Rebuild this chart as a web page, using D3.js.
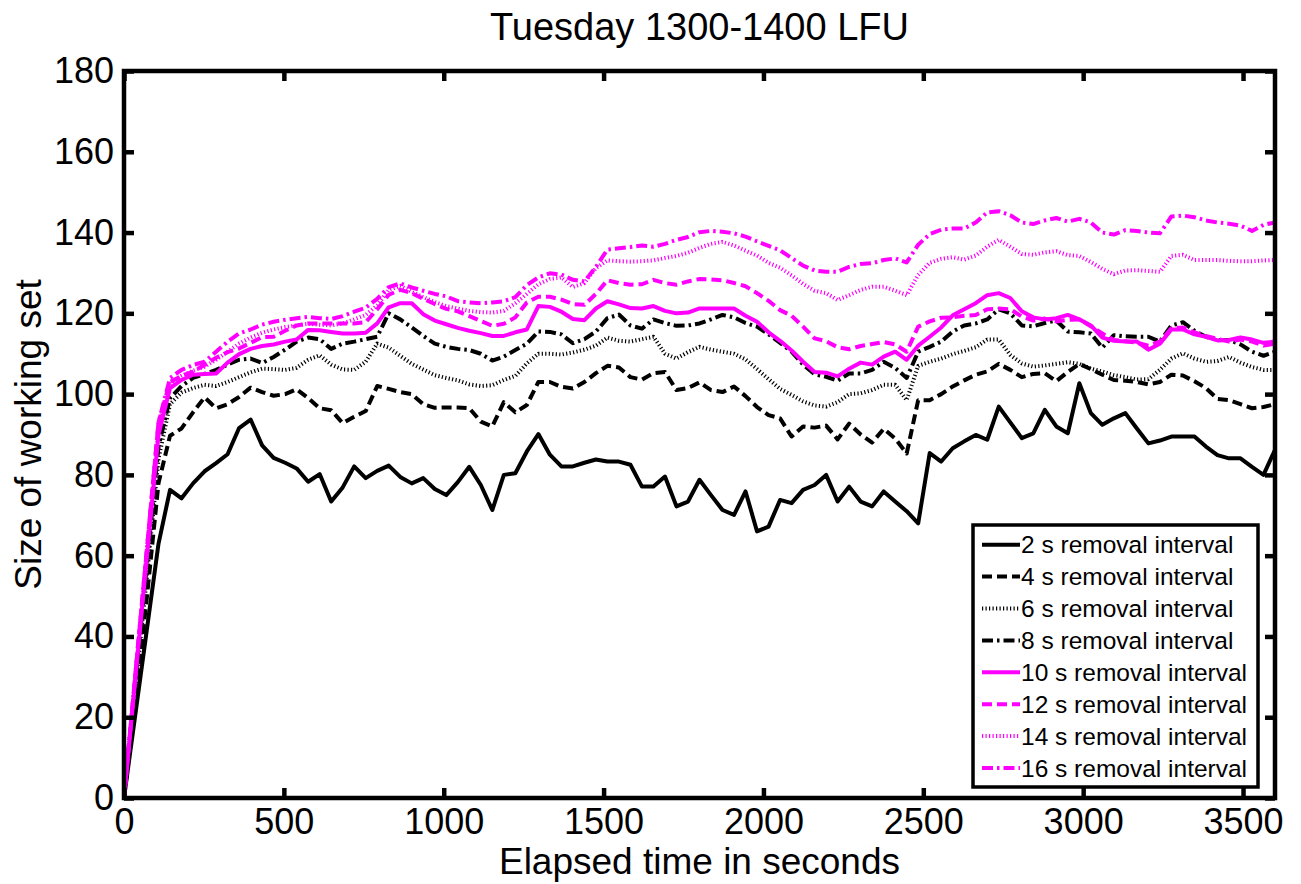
<!DOCTYPE html>
<html><head><meta charset="utf-8">
<script src="https://cdn.jsdelivr.net/npm/d3@7"></script>
<style>
body{margin:0;background:#fff;}
svg text{font-family:"Liberation Sans",Arial,Helvetica,sans-serif;fill:#000;}
</style>
</head><body>
<svg id="c" width="1301" height="884"></svg>
<script>
// ---- data ----
const sampleStep = 36; // seconds between samples
const s2 = [0,21,42,63,76.3,74.2,77.9,80.9,82.9,85.1, 91.6,93.7,87.3,84.2,83.0,81.6,78.3,80.2,73.4,76.9, 82.1,79.2,81,82.3,79.5,77.9,79.2,76.5,75,78.2, 82,77.5,71.3,80,80.4,85.8,90.1,85.0,82.1,82.1, 83,83.8,83.3,83.3,82.5,77.1,77.1,79.6,72.2,73.4, 78.8,75,71.3,70.1,75.9,66.0,67.2,73.8,73.0,76.3, 77.5,80.0,73.4,77.1,73.4,72.2,75.9,73.4,71,68, 85.4,83.3,86.6,88.3,89.9,88.7,96.9,93,89.1,90.3, 96.1,92,90.3,102.7,95.3,92.4,94,95.3,91.5,87.8, 88.5,89.5,89.5,89.5,87,84.9,84.1,84.1,82,80, 86.2];
const s4 = [0,24,50,78,89.7,91.5,95.5,99.2,96.5,97.5, 99.3,101.6,100.5,99.6,100,101.2,99,96.5,96,92.8, 94.4,95.8,102,101.3,100.5,100,97.5,96.6,96.7,96.7, 96.5,93.2,92,98,95.5,97.3,103,103,101.8,101.4, 103,105.2,107,106.6,104.2,103.6,105.2,105.5,101,101.5, 102.9,101,100.5,101.9,99.5,96.8,94.8,94,89.5,92, 91.7,92.2,88.8,92.7,90,88,91.4,89,85.3,98.5, 98.5,100,101.9,103.4,104.8,105.6,107.5,106,104.2,105, 105.2,103.2,105.5,107.5,106.2,104.8,103.5,103.3,103,102.4, 103,104.8,104.6,103.2,101.5,98.8,98.5,97.5,96.5,96.8, 97.5];
const s6 = [0,27,55,84,97.5,100.4,101.5,102.3,102,103, 104.2,105.4,106.3,106.2,106,106.5,108.5,109.6,107.3,106.1, 106,108,112.5,111.5,109.5,107.5,106.1,104.7,104,103.4, 102.4,102,102.2,103.5,104.5,107.6,110,110,109.8,110.3, 111,112,114,113.2,113,113.6,114.2,110,108.8,110.4, 111.7,111,110.5,110,108.6,106.2,103.7,101.3,99.8,98.2, 97.2,96.9,98,100,100.2,101,102.3,102.3,98.5,107, 108,108.8,109.9,110.7,111.6,113.5,113.5,109.7,107.6,106.8, 107.1,107.5,107.9,107.5,106.3,105.6,104.7,104.2,103.6,103.7, 106,108.8,110.1,108.8,108,108.2,109.2,107.8,106.7,106, 106];
const s8 = [0,29,58,87,99,102,104,105,106,107.3, 108.5,108.8,107.7,109.2,111,113,114,113.6,111.2,112.5, 113,113.6,114.2,120,118.5,116.5,114.4,112.5,111.7,111.2, 110.9,110,108.3,109.3,110.9,112.5,115.5,115.4,114.8,112.6, 113.6,115.5,118.8,119.7,117,116.2,118.5,117.6,116.9,117, 117.5,118.5,119.6,119,117.6,116.7,114.8,112.7,110.5,107.3, 104.9,104.3,103.3,105.1,105.1,106,108,106.5,104,110.5, 111.7,113,115.5,117,117.5,118.5,121,120,117,116.8, 117.6,118.2,115.5,115.3,115,111.5,114.6,114.3,114.2,114.2, 113,117,117.8,115.7,114.2,113.4,113.4,112.3,110.5,109.5, 110.5];
const s10 = [0,30,60,90,101.5,103.5,104.8,105,105.1,107.8, 109.9,111.2,111.9,112.3,113,113.5,115.9,115.8,115.4,115, 115,115.2,117.5,121.5,122.5,122.5,119.8,118.2,117.3,116.4, 115.7,115.1,114.4,114.4,115.3,116,121.8,121.6,120.4,118.6, 118.3,121.2,123,122.2,121.3,121.2,121.8,120.6,120,120.2, 121.2,121.2,121.2,121.2,119.4,117.9,115.3,113.2,110.8,108, 105.5,105.3,104.4,106.3,107.8,107.3,109.3,110.5,108.5,112, 114.2,116.5,119.5,121,122.5,124.5,125,123.8,120.5,119, 118.5,118.8,119.6,118.5,117,114,113.2,113,113,111, 112.5,116,116,114.8,114.2,113.3,113.4,114,113.5,112.7, 113];
const s12 = [0,31,62,93,103,104.5,105.6,107.2,109,110.4, 111.3,112.7,114.1,114.2,115.7,117,117.5,117.5,117.5,117.5, 117.5,117.8,121,124.6,125.8,125,123.6,122.3,121.1,120.5, 119.3,118.1,116.9,117.4,119,122.7,124.1,124.1,123.4,122.3, 122.1,124.8,128.2,127.5,127.1,127.2,128.3,127.5,127.1,127.9, 128.5,128.4,128.2,127.5,126.7,125,123.1,120.8,119.4,116.7, 113.8,113.1,111.6,111.1,111.9,112.4,112.9,112.3,110.5,116.7, 118,118.9,119,119.4,119.6,121,121.2,121,119.2,118.2, 118.7,118,118.4,118.5,116.8,115,113.4,113.1,112.7,112, 113,116.3,116.5,115.3,114.4,113.7,113,113.5,113,112, 112.5];
const s14 = [0,31,61,92,102.5,104.5,105.8,106.8,108.5,110.5, 112.5,114,115.2,116,116.6,117,117.4,117.2,117,117.5, 118.5,119.6,122,125.8,126.8,125.3,124,122.8,121.8,121.2, 120.6,120.3,120.2,120.6,122.5,124.8,127.2,128.5,128.9,126.5, 127.5,131.2,133.1,132.9,132.8,132.9,133.1,133.7,134.2,135, 136.2,137.2,137.7,136.8,135.5,134.3,132.5,131.3,129.4,127.3, 125.6,125,123.3,124.5,125.8,126.6,126.6,125.6,124.5,129.5, 132.5,133.5,133.9,133.3,134.3,136.5,138.2,136.5,134.7,134.5, 135.1,135.4,134.4,134.2,132.7,131,129.7,130.6,130.7,130.5, 130.3,134.2,134.5,133.2,133.2,133.2,133,132.9,132.9,133.1, 133.2];
const s16 = [0,31,62,93,104,106,107.2,108,110.5,113, 115,116,117.2,117.9,118.4,118.8,119.1,118.8,118.6,119.3, 120.4,121.4,123.6,126.5,127.4,126.4,125.6,124.8,124.2,123, 122.7,122.5,122.7,123,124,127,128.9,129.9,129.6,128.3, 127.9,131.5,135.8,136.1,136.4,136.8,136.5,137.2,138.2,138.9, 140.1,140.4,140.2,139.8,139,137.8,136.7,135.6,133.7,131.8, 130.6,130.3,130.3,131.5,132.2,132.4,133.2,133.6,132.6,137, 139.6,140.7,141,141,142.5,145,145.3,144.3,142.5,142.1, 143,143.6,142.7,143.4,142.5,140,139.5,140.6,140.4,140, 139.8,144,144.2,143.8,143,142.5,142.2,141.7,140.4,141.9, 142.5];
const seriesNames = ["2 s removal interval","4 s removal interval","6 s removal interval","8 s removal interval","10 s removal interval","12 s removal interval","14 s removal interval","16 s removal interval"];
const xTicks = [0,500,1000,1500,2000,2500,3000,3500];
const yTicks = [0,20,40,60,80,100,120,140,160,180];
const titleText = "Tuesday 1300-1400 LFU";
const xLabelText = "Elapsed time in seconds";
const yLabelText = "Size of working set";

// ---- styles ----
const seriesData = [s2,s4,s6,s8,s10,s12,s14,s16];
const seriesStyle = [
  {color:"#000000", dash:null, w:4},
  {color:"#000000", dash:"10,5", w:4},
  {color:"#000000", dash:"1.2,2.3", w:4},
  {color:"#000000", dash:"11,4,2.5,4", w:4},
  {color:"#ff00ff", dash:null, w:4},
  {color:"#ff00ff", dash:"10,5", w:4},
  {color:"#ff00ff", dash:"1.2,2.3", w:4},
  {color:"#ff00ff", dash:"11,4,2.5,4", w:4}
];

const svg = d3.select("#c");
const P = {l:124, r:1275, t:71, b:798};
const x = d3.scaleLinear().domain([0,3600]).range([P.l,P.r]);
const y = d3.scaleLinear().domain([0,180]).range([P.b,P.t]);
const FONT = '"Liberation Sans",Arial,Helvetica,sans-serif';

// lines
const line = d3.line().x((d,i)=>x(i*sampleStep)).y(d=>y(d));
const gl = svg.append("g");
seriesData.forEach((s,k)=>{
  const st = seriesStyle[k];
  gl.append("path").datum(s).attr("d",line)
    .attr("fill","none").attr("stroke",st.color).attr("stroke-width",st.w)
    .attr("stroke-linejoin","round")
    .attr("stroke-dasharray",st.dash);
});

// axes
function styleAxis(g){
  g.attr("font-family",FONT).attr("font-size",36);
  g.select(".domain").remove();
  g.selectAll(".tick line").attr("stroke","#000").attr("stroke-width",4.5);
  g.selectAll(".tick text").attr("fill","#000");
}
svg.append("g").attr("transform",`translate(0,${P.b})`)
  .call(d3.axisBottom(x).tickValues(xTicks).tickSize(-10).tickPadding(10).tickFormat(d3.format("d")))
  .call(styleAxis);
svg.append("g").attr("transform",`translate(0,${P.t})`)
  .call(d3.axisTop(x).tickValues(xTicks).tickSize(-10).tickFormat(""))
  .call(styleAxis);
svg.append("g").attr("transform",`translate(${P.l},0)`)
  .call(d3.axisLeft(y).tickValues(yTicks).tickSize(-10).tickPadding(10).tickFormat(d3.format("d")))
  .call(styleAxis);
svg.append("g").attr("transform",`translate(${P.r},0)`)
  .call(d3.axisRight(y).tickValues(yTicks).tickSize(-10).tickFormat(""))
  .call(styleAxis);

svg.append("rect").attr("x",P.l).attr("y",P.t).attr("width",P.r-P.l).attr("height",P.b-P.t)
  .attr("fill","none").attr("stroke","#000").attr("stroke-width",4.5);

// texts
svg.append("text").attr("x",(P.l+P.r)/2).attr("y",40).attr("text-anchor","middle")
  .attr("font-size",38).text(titleText);
svg.append("text").attr("x",(P.l+P.r)/2).attr("y",874).attr("text-anchor","middle")
  .attr("font-size",37).text(xLabelText);
svg.append("text").attr("transform",`translate(41,${(P.t+P.b)/2}) rotate(-90)`)
  .attr("text-anchor","middle").attr("font-size",37).text(yLabelText);

// legend
const L = {x:973, y:525, w:285, h:262, row:31.9, base:553.3};
const lg = svg.append("g");
lg.append("rect").attr("x",L.x).attr("y",L.y).attr("width",L.w).attr("height",L.h)
  .attr("fill","#fff").attr("stroke","#000").attr("stroke-width",3.5);
seriesNames.forEach((name,k)=>{
  const st = seriesStyle[k];
  const by = L.base + k*L.row;
  lg.append("line").attr("x1",982).attr("x2",1020).attr("y1",by-8.6).attr("y2",by-8.6)
    .attr("stroke",st.color).attr("stroke-width",st.w).attr("stroke-dasharray",st.dash);
  lg.append("text").attr("x",1021).attr("y",by).attr("font-size",24.5).text(name);
});
</script>
</body></html>
